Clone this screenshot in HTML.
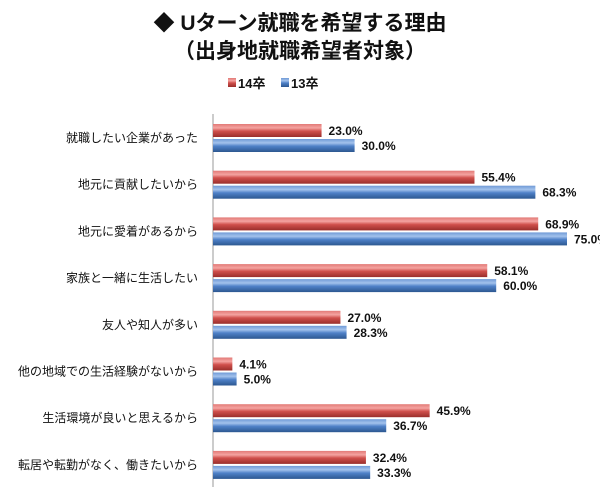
<!DOCTYPE html>
<html><head><meta charset="utf-8"><style>
body{margin:0;background:#fff;}
svg text{font-family:"Liberation Sans","Noto Sans CJK JP",sans-serif;}
</style></head><body>
<svg width="600" height="494" viewBox="0 0 600 494">
<defs>
<linearGradient id="gr" x1="0" y1="0" x2="0" y2="1"><stop offset="0" stop-color="#e27a77"/><stop offset="0.3" stop-color="#f4a3a0"/><stop offset="0.55" stop-color="#d0504c"/><stop offset="1" stop-color="#9a2e2b"/></linearGradient>
<linearGradient id="gb" x1="0" y1="0" x2="0" y2="1"><stop offset="0" stop-color="#6f9ad6"/><stop offset="0.3" stop-color="#a3c2ec"/><stop offset="0.55" stop-color="#4f81c8"/><stop offset="1" stop-color="#2c5790"/></linearGradient>
</defs>
<text x="300" y="30" text-anchor="middle" font-size="21" font-weight="bold" fill="#111">◆ Uターン就職を希望する理由</text>
<text x="300" y="58" text-anchor="middle" font-size="21" font-weight="bold" fill="#111">（出身地就職希望者対象）</text>
<g>
<rect x="228" y="78" width="8" height="9" fill="url(#gr)"/>
<text x="238" y="88" font-size="13" font-weight="bold" fill="#111">14卒</text>
<rect x="281" y="78" width="8" height="9" fill="url(#gb)"/>
<text x="291" y="88" font-size="13" font-weight="bold" fill="#111">13卒</text>
</g>
<line x1="213" y1="114" x2="213" y2="487" stroke="#999" stroke-width="1"/>
<g id="bars"></g>
</svg>
<script>
const categories=["就職したい企業があった","地元に貢献したいから","地元に愛着があるから","家族と一緒に生活したい","友人や知人が多い","他の地域での生活経験がないから","生活環境が良いと思えるから","転居や転勤がなく、働きたいから"];
const series14=[23.0,55.4,68.9,58.1,27.0,4.1,45.9,32.4];
const series13=[30.0,68.3,75.0,60.0,28.3,5.0,36.7,33.3];
const g=document.getElementById('bars');
const NS="http://www.w3.org/2000/svg";
const x0=213,pxPer=4.72,top0=138,step=46.7;
function xs(v){return x0+v*pxPer;}
function mk(t,a){const e=document.createElementNS(NS,t);for(const k in a)e.setAttribute(k,a[k]);g.appendChild(e);return e;}
categories.forEach((c,i)=>{
  const cy=top0+i*step;
  const lab=mk('text',{x:198,y:cy+4,'text-anchor':'end','font-size':12,fill:'#111'});
  lab.textContent=c;
  
  
  [[series14[i],'url(#gr)',cy-14,'bar-14'],[series13[i],'url(#gb)',cy+1,'bar-13']].forEach(([v,f,y,n])=>{
    const r=mk('rect',{x:x0,y:y,width:xs(v)-x0,height:13,fill:f});
    
    
    const t=mk('text',{x:xs(v)+7,y:y+11,'font-size':12,'font-weight':'bold',fill:'#111'});
    t.textContent=v.toFixed(1)+'%';
    
    
  });
});
</script>
</body></html>
